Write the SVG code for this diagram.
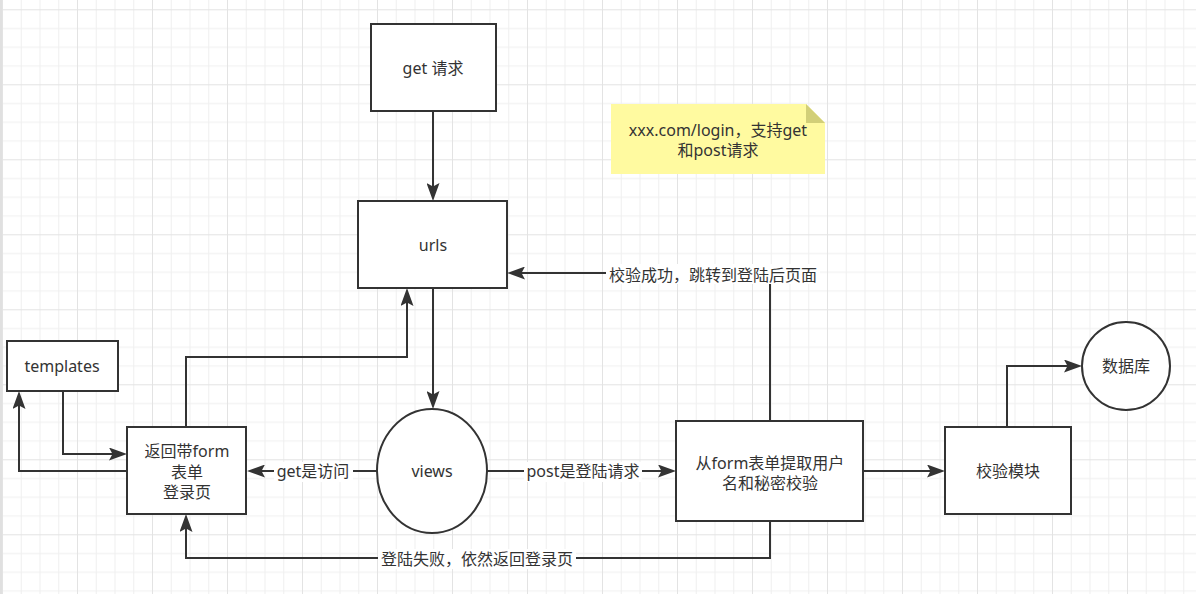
<svg xmlns="http://www.w3.org/2000/svg" width="1196" height="594" viewBox="0 0 1196 594">
<defs>
<pattern id="grid" patternUnits="userSpaceOnUse" x="2" y="9.3" width="75" height="75">
<rect x="0" y="0" width="75" height="75" fill="#ffffff"/>
<g fill="#f0f0f0">
<rect x="18.75" y="0" width="1" height="75"/>
<rect x="37.5" y="0" width="1" height="75"/>
<rect x="56.25" y="0" width="1" height="75"/>
<rect x="0" y="18.75" width="75" height="1"/>
<rect x="0" y="37.5" width="75" height="1"/>
<rect x="0" y="56.25" width="75" height="1"/>
</g>
<g fill="#e3e3e3">
<rect x="0" y="0" width="1" height="75"/>
<rect x="0" y="0" width="75" height="1"/>
</g>
</pattern>
<marker id="arr" markerUnits="userSpaceOnUse" viewBox="0 0 18 13" markerWidth="18" markerHeight="13" refX="10" refY="6.5" orient="auto">
<path d="M0,0 L18,6.5 L0,13 L3.5,6.5 Z" fill="#333333"/>
</marker>
</defs>
<style>
.node{fill:#ffffff;stroke:#333333;stroke-width:2}
.edge{fill:none;stroke:#333333;stroke-width:2;marker-end:url(#arr)}
text{font-family:"Noto Sans","Noto Sans CJK SC",sans-serif;font-size:16px;fill:#333333;text-anchor:middle}
.lbg{fill:#ffffff}
</style>
<rect x="0" y="0" width="1196" height="594" fill="url(#grid)"/>
<rect x="0" y="0" width="2" height="594" fill="#e0e0e0"/>

<g id="connectors">
<path class="edge" d="M433,111 L433,193"/>
<path class="edge" d="M433,288 L433,401"/>
<path class="edge" d="M377,471 L255,471"/>
<path class="edge" d="M487,471 L668,471"/>
<path class="edge" d="M863,471 L937,471"/>
<path class="edge" d="M1007,427 L1007,366 L1074,366"/>
<path class="edge" d="M770,421 L770,273 L515,273"/>
<path class="edge" d="M770,521 L770,558 L186,558 L186,522"/>
<path class="edge" d="M186,427 L186,357 L407,357 L407,296"/>
<path class="edge" d="M63,391 L63,454 L119,454"/>
<path class="edge" d="M127,471 L19,471 L19,399"/>
<g id="label-success">
<rect class="lbg" x="606" y="264" width="214" height="20"/>
<text x="713" y="281">校验成功，跳转到登陆后页面</text>
</g>
<g id="label-get">
<rect class="lbg" x="274" y="462" width="79" height="20"/>
<text x="313" y="477">get是访问</text>
</g>
<g id="label-post">
<rect class="lbg" x="524" y="462" width="118" height="20"/>
<text x="583" y="477">post是登陆请求</text>
</g>
<g id="label-fail">
<rect class="lbg" x="378" y="549" width="198" height="20"/>
<text x="477" y="565">登陆失败，依然返回登录页</text>
</g>
</g>

<g id="node-get">
<rect class="node" x="371" y="24" width="125" height="87"/>
<text x="433" y="74">get 请求</text>
</g>
<g id="node-urls">
<rect class="node" x="358" y="201" width="149" height="87"/>
<text x="433" y="251">urls</text>
</g>
<g id="node-note">
<path d="M611,104 L806,104 L825,123 L825,174 L611,174 Z" fill="#fffaa0"/>
<path d="M806,104 L825,123 L806,123 Z" fill="#d2cf78"/>
<text x="718" y="136">xxx.com/login，支持get</text>
<text x="718" y="156">和post请求</text>
</g>
<g id="node-templates">
<rect class="node" x="7" y="341" width="111" height="50"/>
<text x="62" y="372">templates</text>
</g>
<g id="node-login">
<rect class="node" x="127" y="427" width="119" height="87"/>
<text x="187" y="457">返回带form</text>
<text x="187" y="478">表单</text>
<text x="187" y="498">登录页</text>
</g>
<g id="node-views">
<ellipse class="node" cx="432" cy="471" rx="55" ry="62"/>
<text x="432" y="477">views</text>
</g>
<g id="node-extract">
<rect class="node" x="676" y="421" width="187" height="100"/>
<text x="770" y="469">从form表单提取用户</text>
<text x="770" y="489">名和秘密校验</text>
</g>
<g id="node-check">
<rect class="node" x="945" y="427" width="126" height="87"/>
<text x="1008" y="477">校验模块</text>
</g>
<g id="node-db">
<circle class="node" cx="1126" cy="366" r="44"/>
<text x="1126" y="372">数据库</text>
</g>
</svg>
